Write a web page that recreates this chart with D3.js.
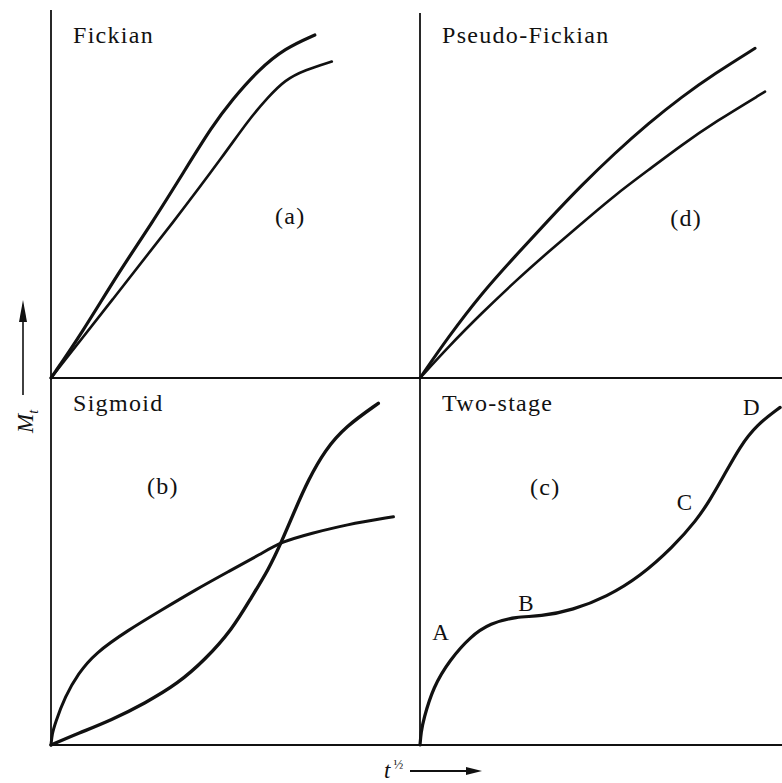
<!DOCTYPE html>
<html>
<head>
<meta charset="utf-8">
<script src="https://cdn.jsdelivr.net/npm/d3@7"></script>
<style>
  html, body { margin: 0; padding: 0; background: #fff; }
  svg { display: block; }
  text { font-family: "Liberation Serif", "Times New Roman", serif; fill: #111; }
</style>
</head>
<body>
<svg id="chart" width="782" height="783"></svg>
<script>
// ---- data (panel units: 0..100 on both axes) ----
const fickianUpper = [[0,0],[8.3,12.1],[18.2,28.5],[27.3,42.0],[36.3,56.5],[43.6,68.3],[49.0,75.5],[56.2,83.7],[63.4,89.6],[71.5,93.2]];
const fickianLower = [[0,0],[16.8,21.5],[33.6,42.9],[47.2,61.1],[53.5,70.1],[58.9,76.4],[63.4,81.0],[68.8,83.7],[76.1,86.0]];
const pseudoUpper = [[0,0],[7.7,11.2],[16.7,23.0],[25.7,33.0],[34.8,42.9],[43.8,52.4],[52.8,61.1],[61.9,69.2],[70.9,76.4],[80.0,82.8],[90.8,89.6]];
const pseudoLower = [[0,0],[7.7,8.5],[16.7,17.6],[25.7,26.2],[34.8,34.3],[43.8,42.0],[52.8,49.7],[61.9,56.5],[70.9,63.3],[80.0,69.6],[93.5,77.8]];
const sigmoidS = [[0,0],[7.4,3.2],[16.4,6.8],[25.5,11.4],[34.5,16.8],[41.7,23.2],[49.0,31.3],[54.4,40.4],[58.9,47.7],[62.5,55.4],[66.1,64.0],[69.7,72.2],[74.3,80.4],[79.7,86.7],[88.7,93.1]];
const sigmoidConcave = [[0,0],[0.3,3.0],[1.1,5.9],[3.8,13.2],[7.4,19.5],[11.9,25.0],[20.9,31.3],[30.0,36.8],[39.0,42.2],[48.0,47.2],[57.1,52.2],[62.5,55.4],[70.7,57.7],[79.7,60.0],[92.8,62.2]];
const twoStage = [[0,0],[0.3,3.5],[0.9,6.8],[3.6,15.9],[8.1,23.2],[13.6,29.5],[19.0,33.2],[26.2,35.0],[32.5,35.0],[41.5,36.8],[50.6,40.4],[59.6,45.9],[68.6,54.0],[75.0,61.3],[78.6,66.8],[82.2,73.1],[86.7,81.3],[91.2,87.2],[97.6,92.0]];

const panelTitles = ["Fickian", "Pseudo-Fickian", "Sigmoid", "Two-stage"];
const panelTags = ["(a)", "(d)", "(b)", "(c)"];
const tagPos = [[60.7,41.8],[67.8,41.3],[26.0,68.4],[29.8,68.1]];
const pointLabels = ["A", "B", "C", "D"];
const pointLabelPos = [[3.3,28.6],[26.6,36.5],[69.6,64.0],[87.5,89.9]];
const yLabel = "M";
const ySub = "t";
const xLabel = "t";
const xSup = "½";

// ---- scales ----
const svg = d3.select("#chart");
const xL = d3.scaleLinear().domain([0,100]).range([51,420]);
const xR = d3.scaleLinear().domain([0,100]).range([420,789]);
const yT = d3.scaleLinear().domain([0,100]).range([378,10]);
const yB = d3.scaleLinear().domain([0,100]).range([745,378]);

const panels = [
  {x: xL, y: yT, series: [fickianUpper, fickianLower], widths: [3.2, 2.6]},
  {x: xR, y: yT, series: [pseudoUpper, pseudoLower], widths: [3, 2.6]},
  {x: xL, y: yB, series: [sigmoidS, sigmoidConcave], widths: [3.4, 3]},
  {x: xR, y: yB, series: [twoStage], widths: [3.2]}
];

// ---- frame lines ----
const ink = "#111";
const frame = svg.append("g").attr("stroke", ink).attr("fill", "none");
frame.append("line").attr("x1", xL(0)).attr("x2", xL(0)).attr("y1", yT(100)).attr("y2", yB(0)).attr("stroke-width", 1.8);
frame.append("line").attr("x1", xR(0)).attr("x2", xR(0)).attr("y1", yT(99.2)).attr("y2", yB(0)).attr("stroke-width", 1.8);
frame.append("line").attr("x1", xL(0)).attr("x2", 782).attr("y1", yT(0)).attr("y2", yT(0)).attr("stroke-width", 1.8);
frame.append("line").attr("x1", xL(0)).attr("x2", 782).attr("y1", yB(0)).attr("y2", yB(0)).attr("stroke-width", 2);

// ---- curves ----
panels.forEach((p, i) => {
  const line = d3.line().x(d => p.x(d[0])).y(d => p.y(d[1])).curve(d3.curveBasis);
  p.series.forEach((s, j) => {
    svg.append("path").attr("d", line(s)).attr("fill", "none")
      .attr("stroke", ink).attr("stroke-width", p.widths[j]).attr("stroke-linecap", "round").attr("stroke-linejoin", "round");
  });
  svg.append("text").attr("x", p.x(0) + 22).attr("y", p.y(100) + 33)
    .attr("font-size", 24).attr("letter-spacing", 1.3).text(panelTitles[i]);
  svg.append("text").attr("x", p.x(tagPos[i][0])).attr("y", p.y(tagPos[i][1]))
    .attr("font-size", 24).attr("letter-spacing", 1.3).text(panelTags[i]);
});

// point labels on two-stage curve
pointLabels.forEach((t, k) => {
  svg.append("text").attr("x", xR(pointLabelPos[k][0])).attr("y", yB(pointLabelPos[k][1]))
    .attr("font-size", 23).text(t);
});

// ---- y axis label with arrow ----
const yArrowX = 23;
svg.append("line").attr("x1", yArrowX).attr("x2", yArrowX).attr("y1", 395).attr("y2", 315)
  .attr("stroke", ink).attr("stroke-width", 1.6);
svg.append("path").attr("d", d3.line()([[yArrowX - 4, 322],[yArrowX, 300],[yArrowX + 4, 322]]) + "Z").attr("fill", ink);
const yl = svg.append("text").attr("transform", "translate(33,433) rotate(-90)")
  .attr("font-size", 23).attr("font-style", "italic");
yl.append("tspan").text(yLabel);
yl.append("tspan").attr("font-size", 14).attr("dy", 5).text(ySub);

// ---- x axis label with arrow ----
const xl = svg.append("text").attr("x", 384).attr("y", 778).attr("font-size", 23).attr("font-style", "italic");
xl.append("tspan").text(xLabel);
xl.append("tspan").attr("font-style", "normal").attr("font-size", 13).attr("dx", 3).attr("dy", -9).text(xSup);
svg.append("line").attr("x1", 410).attr("x2", 472).attr("y1", 771).attr("y2", 771)
  .attr("stroke", ink).attr("stroke-width", 1.8);
svg.append("path").attr("d", d3.line()([[466, 767],[482, 771],[466, 775]]) + "Z").attr("fill", ink);
</script>
</body>
</html>
